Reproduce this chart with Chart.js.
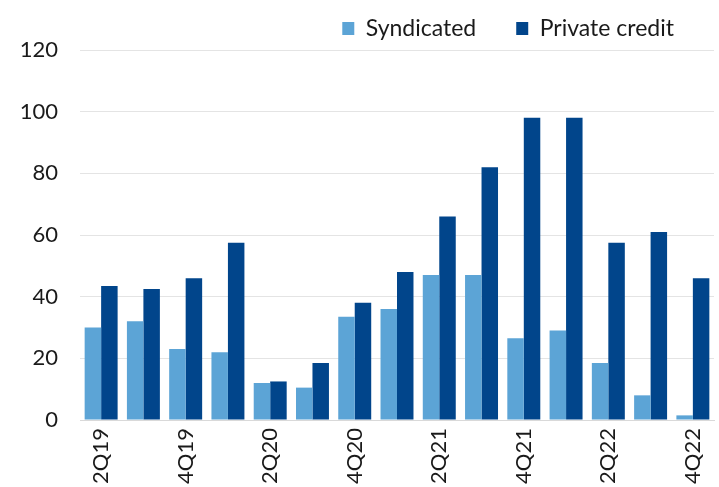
<!DOCTYPE html>
<html lang="en">
<head>
    <meta charset="UTF-8">
    <title>Syndicated vs Private credit</title>
    <script src="https://cdn.jsdelivr.net/npm/chart.js"></script>
    <style>
        body {
            margin: 0;
            padding: 0;
            background-color: #ffffff;
        }

        .wrap {
            width: 719px;
            height: 487px;
        }
    </style>
</head>
<body>
    <div class="wrap">
        <canvas id="chart" width="719" height="487"></canvas>
    </div>

    <script>
        // Quarterly volumes
        const quarters = ['2Q19', '3Q19', '4Q19', '1Q20', '2Q20', '3Q20', '4Q20', '1Q21',
                          '2Q21', '3Q21', '4Q21', '1Q22', '2Q22', '3Q22', '4Q22'];
        const syndicated = [30, 32, 23, 22, 12, 10.5, 33.5, 36, 47, 47, 26.5, 29, 18.5, 8, 1.5];
        const privateCredit = [43.5, 42.5, 46, 57.5, 12.5, 18.5, 38, 48, 66, 82, 98, 98, 57.5, 61, 46];
        const yTicks = [0, 20, 40, 60, 80, 100, 120];

        const font = "Lato, 'Open Sans', sans-serif";
        Chart.defaults.font.family = font;
        Chart.defaults.color = '#1a1a1a';

        const ctx = document.getElementById('chart').getContext('2d');
        new Chart(ctx, {
            type: 'bar',
            data: {
                labels: quarters,
                datasets: [
                    {
                        label: 'Syndicated',
                        data: syndicated,
                        backgroundColor: '#5ca4d6',
                        categoryPercentage: 0.78,
                        barPercentage: 1.0
                    },
                    {
                        label: 'Private credit',
                        data: privateCredit,
                        backgroundColor: '#01458b',
                        categoryPercentage: 0.78,
                        barPercentage: 1.0
                    }
                ]
            },
            options: {
                responsive: false,
                animation: false,
                // negative top pulls the wide-spaced legend up into the margin
                layout: { padding: { left: 0, right: 5, top: -23, bottom: 0 } },
                plugins: {
                    legend: {
                        position: 'top',
                        align: 'end',
                        labels: {
                            boxWidth: 12,
                            boxHeight: 13,
                            padding: 40,
                            font: { size: 23 },
                            color: '#1a1a1a'
                        }
                    },
                    tooltip: { enabled: false }
                },
                scales: {
                    x: {
                        grid: { display: false, drawTicks: false },
                        border: { color: '#d9d9d9', width: 1 },
                        ticks: {
                            autoSkip: false,
                            maxRotation: 90,
                            minRotation: 90,
                            padding: 8,
                            font: { size: 22 },
                            callback: function (value, index) {
                                return index % 2 === 0 ? quarters[index] : '';
                            }
                        },
                        afterFit: function (scale) {
                            scale.height = 67;
                            scale.paddingLeft = 0;
                            scale.paddingRight = 0;
                        }
                    },
                    y: {
                        min: 0,
                        max: 120,
                        afterBuildTicks: function (scale) {
                            scale.ticks = yTicks.map(v => ({ value: v }));
                        },
                        grid: { color: '#e4e4e4', drawTicks: false },
                        border: { display: false },
                        ticks: {
                            padding: 22,
                            font: { size: 22 }
                        },
                        afterFit: function (scale) { scale.width = 80; }
                    }
                }
            }
        });
    </script>
</body>
</html>
